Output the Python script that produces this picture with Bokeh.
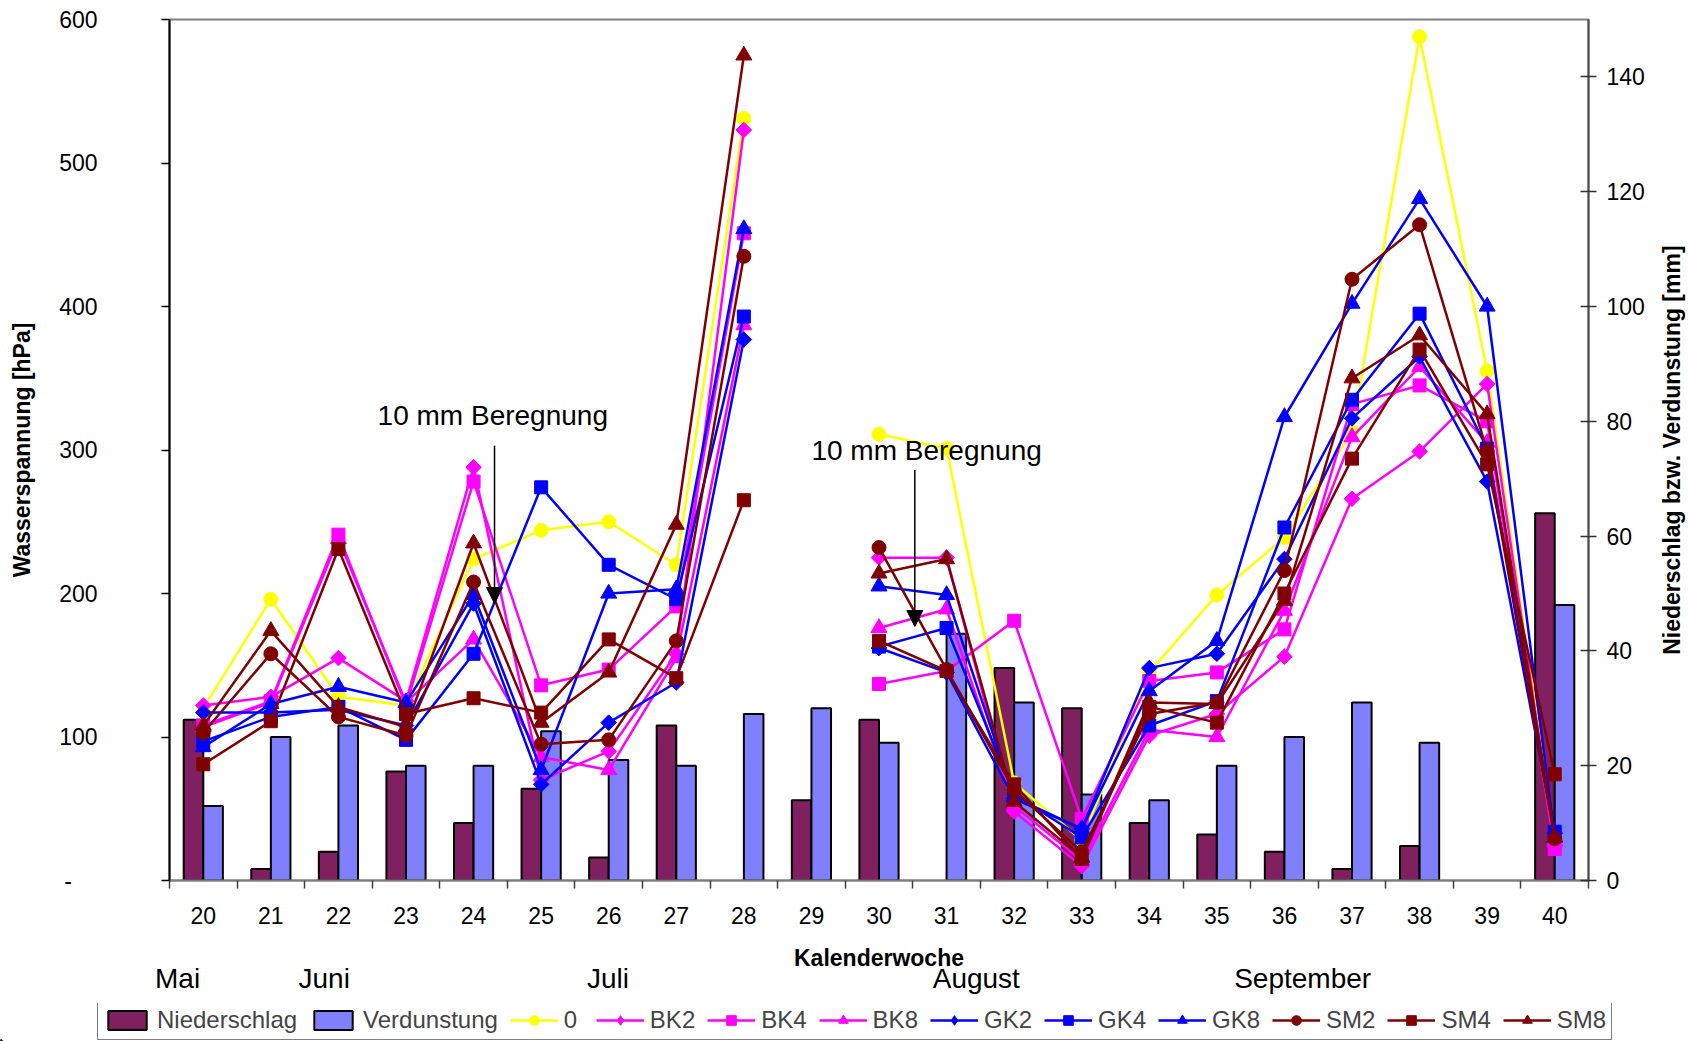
import math
from bokeh.plotting import figure
from bokeh.layouts import column, row
from bokeh.models import (Range1d, LinearAxis, FixedTicker, ColumnDataSource, Legend,
                          LegendItem, Label, Arrow, NormalHead)
from bokeh.transform import dodge
from bokeh.embed import file_html
from bokeh.resources import INLINE

nan = float("nan")

# Kalenderwochen
weeks = list(range(20, 41))

# Niederschlag / Verdunstung [mm] (rechte Achse)
niederschlag = [28, 2, 5, 19, 10, 16, 4, 27, 0, 14, 28, 0, 37, 30, 10, 8, 5, 2, 6, 0, 64]
verdunstung = [13, 25, 27, 20, 20, 26, 21, 20, 29, 30, 24, 43, 31, 15, 14, 20, 25, 31, 24, 0, 48]

# Wasserspannung [hPa] (linke Achse), KW 29 ohne Messung
ws_0 = [120, 196, 128, 122, 224, 244, 250, 220, 531, nan, 311, 301, 68, 28, 145, 199, 239, 313, 588, 355, 28]
ws_bk2 = [122, 128, 155, 125, 288, 70, 90, 158, 523, nan, 225, 225, 48, 10, 101, 116, 156, 266, 299, 346, 25]
ws_bk4 = [108, 125, 241, 122, 278, 136, 147, 191, 451, nan, 137, 146, 181, 43, 139, 145, 175, 332, 345, 320, 22]
ws_bk8 = [107, 124, 238, 124, 168, 86, 77, 155, 387, nan, 176, 189, 52, 14, 105, 100, 188, 309, 358, 305, 27]
ws_gk2 = [117, 117, 119, 108, 193, 67, 110, 138, 377, nan, 162, 145, 57, 36, 148, 158, 224, 322, 365, 278, 33]
ws_gk4 = [97, 114, 121, 98, 158, 274, 220, 196, 393, nan, 163, 176, 60, 30, 108, 125, 246, 335, 395, 301, 34]
ws_gk8 = [93, 123, 135, 124, 199, 77, 200, 203, 454, nan, 205, 199, 58, 36, 132, 167, 323, 402, 475, 400, 30]
ws_sm2 = [103, 158, 114, 101, 208, 95, 98, 167, 435, nan, 232, 147, 63, 20, 116, 124, 216, 419, 457, 299, 29]
ws_sm4 = [81, 111, 231, 116, 127, 117, 168, 141, 265, nan, 167, 146, 67, 15, 121, 110, 200, 294, 370, 290, 74]
ws_sm8 = [108, 174, 121, 107, 235, 110, 145, 248, 575, nan, 214, 224, 55, 16, 124, 123, 195, 350, 380, 325, 30]

series_names = ["0", "BK2", "BK4", "BK8", "GK2", "GK4", "GK8", "SM2", "SM4", "SM8"]
series_values = [ws_0, ws_bk2, ws_bk4, ws_bk8, ws_gk2, ws_gk4, ws_gk8, ws_sm2, ws_sm4, ws_sm8]
series_colors = ["#FFFF00", "#FF00FF", "#FF00FF", "#FF00FF", "#0000FF", "#0000FF", "#0000FF",
                 "#800000", "#800000", "#800000"]
series_markers = ["circle", "diamond", "square", "triangle", "diamond", "square", "triangle",
                  "circle", "square", "triangle"]

month_names = ["Mai", "Juni", "Juli", "August", "September"]
month_pos = [19.62, 21.79, 25.99, 31.44, 36.27]

RIGHT_TITLE = "Niederschlag bzw. Verdunstung [mm]"
FONT = "Liberation Sans"
N_COLOR = "#802060"
V_COLOR = "#8080FF"
SIZES = {"circle": 14, "square": 13, "triangle": 16, "diamond": 11}

MAIN_W, MAIN_H = 1648, 1003
TITLE_W = 1688 - MAIN_W
LEGEND_H = 1041 - MAIN_H


def add_series(fig, source, col, mk, for_legend=False):
    ln = fig.line("week", "val", source=source, line_color=col, line_width=2.5)
    if mk == "diamond" and not for_legend:
        sc = fig.scatter("week", "val", source=source, marker="square", angle=math.pi / 4,
                         size=SIZES[mk], fill_color=col, line_color=col)
    else:
        sc = fig.scatter("week", "val", source=source, marker=mk, size=SIZES[mk],
                         fill_color=col, line_color=col)
    return ln, sc


def bare_axis(axis):
    axis.axis_line_color = None
    axis.major_tick_line_color = None
    axis.minor_tick_line_color = None
    axis.major_tick_out = 0
    axis.major_tick_in = 0
    axis.minor_tick_out = 0
    axis.minor_tick_in = 0


def blank_figure(width, height):
    f = figure(width=width, height=height, output_backend="svg", toolbar_location=None,
               x_range=Range1d(0, width), y_range=Range1d(0, height),
               x_axis_type=None, y_axis_type=None,
               min_border=0, min_border_left=0, min_border_right=0, min_border_top=0,
               min_border_bottom=0)
    f.outline_line_color = None
    f.xgrid.visible = False
    f.ygrid.visible = False
    f.background_fill_color = "white"
    f.border_fill_color = "white"
    f.frame_align = False
    return f


p = figure(width=MAIN_W, height=MAIN_H, output_backend="svg", toolbar_location=None,
           x_range=Range1d(19.5, 40.5), y_range=Range1d(0, 600),
           min_border_left=169, min_border_right=60, min_border_top=19, min_border_bottom=123)
p.background_fill_color = "white"
p.border_fill_color = "white"
p.xgrid.visible = False
p.ygrid.visible = False
p.outline_line_color = "#808080"
p.outline_line_width = 2
p.frame_align = False

# left axis
ya = p.yaxis[0]
ya.ticker = FixedTicker(ticks=[0, 100, 200, 300, 400, 500, 600])
ya.major_label_overrides = {0: "-\u00a0\u00a0\u00a0\u00a0"}
ya.axis_line_color = "black"
ya.axis_line_width = 2
ya.major_tick_line_color = "black"
ya.major_tick_line_width = 1.5
ya.major_tick_out = 8
ya.major_tick_in = 0
ya.minor_tick_out = 0
ya.minor_tick_in = 0
ya.major_label_standoff = 64
ya.major_label_text_font = FONT
ya.major_label_text_font_size = "23px"
ya.major_label_text_color = "black"
ya.axis_label = "Wasserspannung [hPa]"
ya.axis_label_text_font = FONT
ya.axis_label_text_font_style = "bold"
ya.axis_label_text_font_size = "23px"
ya.axis_label_text_color = "black"
ya.axis_label_standoff = 21

# right axis
p.extra_y_ranges = {"mm": Range1d(0, 150)}
ra = LinearAxis(y_range_name="mm")
ra.ticker = FixedTicker(ticks=[0, 20, 40, 60, 80, 100, 120, 140])
ra.axis_line_color = "#505050"
ra.axis_line_width = 2
ra.major_tick_line_color = "#303030"
ra.major_tick_line_width = 1.5
ra.major_tick_out = 8
ra.major_tick_in = 8
ra.minor_tick_out = 0
ra.minor_tick_in = 0
ra.major_label_standoff = 10
ra.major_label_text_font = FONT
ra.major_label_text_font_size = "23px"
ra.major_label_text_color = "black"
p.add_layout(ra, "right")

# x axis: labels at week centres, tick marks between weeks
xa = p.xaxis[0]
xa.ticker = FixedTicker(ticks=weeks, minor_ticks=[w - 0.5 for w in weeks] + [weeks[-1] + 0.5])
xa.axis_line_color = "#808080"
xa.axis_line_width = 2
xa.major_tick_out = 0
xa.major_tick_in = 0
xa.minor_tick_out = 8
xa.minor_tick_in = 0
xa.minor_tick_line_color = "#404040"
xa.minor_tick_line_width = 1.5
xa.major_label_standoff = 18
xa.major_label_text_font = FONT
xa.major_label_text_font_size = "23px"
xa.major_label_text_color = "black"
xa.axis_label = "Kalenderwoche"
xa.axis_label_text_font = FONT
xa.axis_label_text_font_style = "bold"
xa.axis_label_text_font_size = "23px"
xa.axis_label_text_color = "black"
xa.axis_label_standoff = 18

# month names below the week numbers
ma = LinearAxis()
bare_axis(ma)
ma.ticker = FixedTicker(ticks=month_pos)
ma.major_label_overrides = {pos: name for pos, name in zip(month_pos, month_names)}
ma.major_label_standoff = -11
ma.major_label_text_font = FONT
ma.major_label_text_font_size = "28px"
ma.major_label_text_color = "black"
p.add_layout(ma, "below")

# bars
n_src = ColumnDataSource(dict(week=[w for w, v in zip(weeks, niederschlag) if v > 0],
                              val=[v for v in niederschlag if v > 0]))
v_src = ColumnDataSource(dict(week=[w for w, v in zip(weeks, verdunstung) if v > 0],
                              val=[v for v in verdunstung if v > 0]))
p.vbar(x=dodge("week", -0.145, range=p.x_range), top="val", bottom=0, width=0.29,
       source=n_src, y_range_name="mm", fill_color=N_COLOR, line_color="black", line_width=2)
p.vbar(x=dodge("week", 0.145, range=p.x_range), top="val", bottom=0, width=0.29,
       source=v_src, y_range_name="mm", fill_color=V_COLOR, line_color="black", line_width=2)

# soil water tension series
for vals, col, mk in zip(series_values, series_colors, series_markers):
    add_series(p, ColumnDataSource(dict(week=weeks, val=vals)), col, mk)

# irrigation notes
for tx, ty, ax, ay0, ay1 in [(22.58, 324, 24.31, 303, 193), (29.0, 300, 30.53, 286, 177)]:
    p.add_layout(Label(x=tx, y=ty, text="10 mm Beregnung", text_font=FONT,
                       text_font_size="28px", text_baseline="middle", text_color="black"))
    p.add_layout(Arrow(x_start=ax, y_start=ay0, x_end=ax, y_end=ay1, line_color="black",
                       line_width=1.5,
                       end=NormalHead(size=16, fill_color="black", line_color="black")))

# right-hand title strip, text reading bottom to top
pt = blank_figure(TITLE_W, MAIN_H)
pt.add_layout(Label(x=23, y=MAIN_H - 449.6, text=RIGHT_TITLE, angle=math.pi / 2,
                    text_align="center", text_baseline="middle", text_font=FONT,
                    text_font_style="bold", text_font_size="23px", text_color="black"))

# legend strip underneath the chart (its renderers sit outside the visible range)
pl = blank_figure(1688, LEGEND_H)
hidden = dict(week=[-5.0], val=[-5.0])
leg_n = pl.vbar(x="week", top="val", width=0.1, source=ColumnDataSource(hidden),
                fill_color=N_COLOR, line_color="black", line_width=2)
leg_v = pl.vbar(x="week", top="val", width=0.1, source=ColumnDataSource(hidden),
                fill_color=V_COLOR, line_color="black", line_width=2)
items = [LegendItem(label="Niederschlag", renderers=[leg_n]),
         LegendItem(label="Verdunstung", renderers=[leg_v])]
for name, col, mk in zip(series_names, series_colors, series_markers):
    ln, sc = add_series(pl, ColumnDataSource(hidden), col, mk, for_legend=True)
    items.append(LegendItem(label=name, renderers=[ln, sc]))

legend = Legend(items=items, orientation="horizontal", nrows=1, location=(97, 1),
                glyph_width=48, glyph_height=24, label_standoff=6, spacing=12,
                padding=5, margin=0, label_text_font=FONT, label_text_font_size="24px",
                label_height=20, border_line_color="black", border_line_width=1.5,
                background_fill_color="white", background_fill_alpha=1)
pl.add_layout(legend)

layout = column(row(p, pt, spacing=0), pl, spacing=0)
open("out.html", "w").write(file_html(layout, INLINE))
